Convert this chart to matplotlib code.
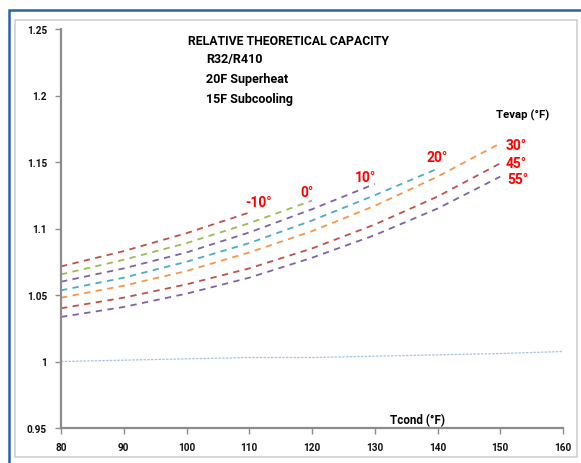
import numpy as np
import matplotlib.pyplot as plt
from matplotlib.patches import Rectangle

# Condensing temperatures (F)
tcond = [80, 90, 100, 110, 120, 130, 140, 150, 160]

# Relative capacity R32/R410 for each evaporating temperature
evap_labels = ['-10°', '0°', '10°', '20°', '30°', '45°', '55°']
cap_m10 = [1.0715, 1.083, 1.0965, 1.112]
cap_0 = [1.0655, 1.0765, 1.089, 1.104, 1.121]
cap_10 = [1.060, 1.070, 1.082, 1.097, 1.1145, 1.1335]
cap_20 = [1.0535, 1.063, 1.075, 1.089, 1.106, 1.125, 1.145]
cap_30 = [1.048, 1.057, 1.068, 1.082, 1.098, 1.117, 1.139, 1.164]
cap_45 = [1.040, 1.048, 1.058, 1.070, 1.085, 1.103, 1.124, 1.149]
cap_55 = [1.0335, 1.041, 1.051, 1.063, 1.078, 1.095, 1.115, 1.139]
baseline = [1.000, 1.001, 1.002, 1.003, 1.003, 1.004, 1.005, 1.006, 1.0075]

colors = ['#C0504D', '#9BBB59', '#8064A2', '#4BACC6', '#F79646', '#C0504D', '#8064A2']
series = [cap_m10, cap_0, cap_10, cap_20, cap_30, cap_45, cap_55]

# label positions (Tcond, capacity)
label_pos = [(109.3, 1.120), (118.1, 1.1275), (126.9, 1.139), (138.3, 1.154),
             (150.9, 1.163), (150.9, 1.1495), (151.2, 1.137)]

plt.rcParams['font.family'] = ['Roboto', 'DejaVu Sans']

fig = plt.figure(figsize=(5.81, 4.64), dpi=100)
fig.patches.append(Rectangle((9 / 581, -0.5), 1.5, 1.5 - 11 / 464, transform=fig.transFigure,
                             fill=False, edgecolor='#2E62A8', linewidth=1.8, zorder=-2))
fig.patches.append(Rectangle((15 / 581, 1 - 458 / 464), (577 - 15) / 581, (458 - 21) / 464,
                             transform=fig.transFigure, facecolor='white',
                             edgecolor='#D0D0D0', linewidth=1.2, zorder=-1))

ax = fig.add_axes([61 / 581, 1 - 429 / 464, (563 - 61) / 581, (429 - 30) / 464])
ax.patch.set_alpha(0)

ax.plot(tcond, baseline, color='#A9C2E2', linewidth=0.9, linestyle=(0, (2, 1)))
for vals, c in zip(series, colors):
    ax.plot(tcond[:len(vals)], vals, color=c, linewidth=1.3, linestyle=(0, (3.5, 3)))

for lab, (x, y) in zip(evap_labels, label_pos):
    ax.text(x, y, lab, color='#FF0000', fontsize=10, fontweight='bold', ha='left', va='center')

ax.set_xlim(80, 160)
ax.set_ylim(0.95, 1.25)
ax.set_xticks(range(80, 161, 10))
ax.set_yticks([0.95, 1.0, 1.05, 1.1, 1.15, 1.2, 1.25])
ax.set_yticklabels(['0.95', '1', '1.05', '1.1', '1.15', '1.2', '1.25'])
for s in ['top', 'right']:
    ax.spines[s].set_visible(False)
for s in ['left', 'bottom']:
    ax.spines[s].set_color('#8C8C8C')
    ax.spines[s].set_linewidth(1.6)
ax.tick_params(axis='both', colors='#8C8C8C', length=4, width=1, labelsize=7.2, labelcolor='#111111')
ax.tick_params(axis='y', pad=6)
ax.tick_params(axis='x', pad=6)
for t in ax.get_xticklabels() + ax.get_yticklabels():
    t.set_fontweight('bold')

ax.text(0.253, 0.970, 'RELATIVE THEORETICAL CAPACITY', transform=ax.transAxes,
        fontsize=8.8, fontweight='bold', va='center', ha='left')
ax.text(0.289, 0.925, 'R32/R410', transform=ax.transAxes, fontsize=9, fontweight='bold', va='center')
ax.text(0.289, 0.875, '20F Superheat', transform=ax.transAxes, fontsize=9, fontweight='bold', va='center')
ax.text(0.289, 0.825, '15F Subcooling', transform=ax.transAxes, fontsize=9, fontweight='bold', va='center')
ax.text(0.867, 0.787, 'Tevap (°F)', transform=ax.transAxes, fontsize=8.2, fontweight='bold', va='center')
ax.text(0.655, 0.020, 'Tcond (°F)', transform=ax.transAxes, fontsize=8.4, fontweight='bold', va='center')

fig.savefig('out.png', dpi=100)
